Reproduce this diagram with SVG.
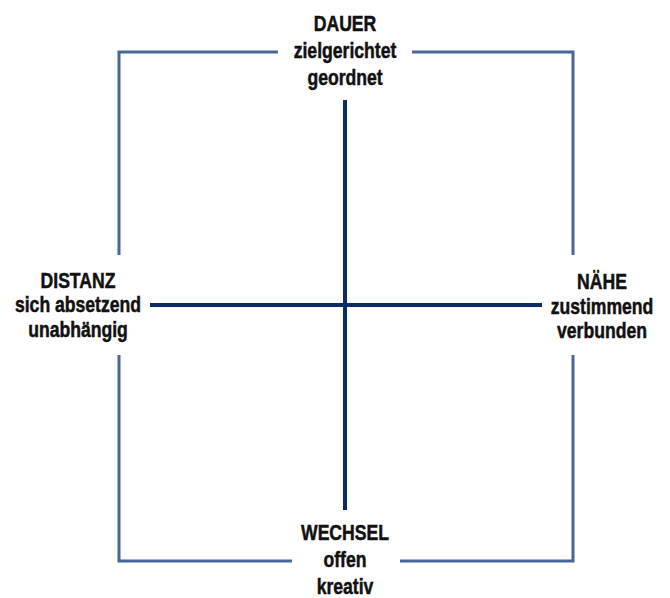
<svg xmlns="http://www.w3.org/2000/svg" width="670" height="598" viewBox="0 0 670 598">
<style>
.frame{stroke:#46679a;stroke-width:3;fill:none}
.cross{stroke:#0c2a66;stroke-width:4;fill:none}
text{font-family:"Liberation Sans",Arial,sans-serif;font-weight:bold;font-size:22px;fill:#111;stroke:#111;stroke-width:0.5;text-anchor:middle}
</style>
<rect width="670" height="598" fill="#fff"/>
<g id="connectors">
<path class="frame" d="M278 52 H119 V255 M119 355 V561 H292 M400 561 H573 V355 M573 255 V52 H412"/>
<path class="cross" d="M345 100 V510 M150 305 H542"/>
</g>
<g id="dauer" transform="translate(345,0) scale(0.8,1)">
<text x="0" y="31">DAUER</text>
<text x="0" y="58">zielgerichtet</text>
<text x="0" y="85">geordnet</text>
</g>
<g id="distanz" transform="translate(78,0) scale(0.8,1)">
<text x="0" y="288">DISTANZ</text>
<text x="0" y="312">sich absetzend</text>
<text x="0" y="337">unabhängig</text>
</g>
<g id="naehe" transform="translate(602,0) scale(0.8,1)">
<text x="0" y="289">NÄHE</text>
<text x="0" y="314">zustimmend</text>
<text x="0" y="338">verbunden</text>
</g>
<g id="wechsel" transform="translate(345,0) scale(0.8,1)">
<text x="0" y="540">WECHSEL</text>
<text x="0" y="567">offen</text>
<text x="0" y="594">kreativ</text>
</g>
</svg>
